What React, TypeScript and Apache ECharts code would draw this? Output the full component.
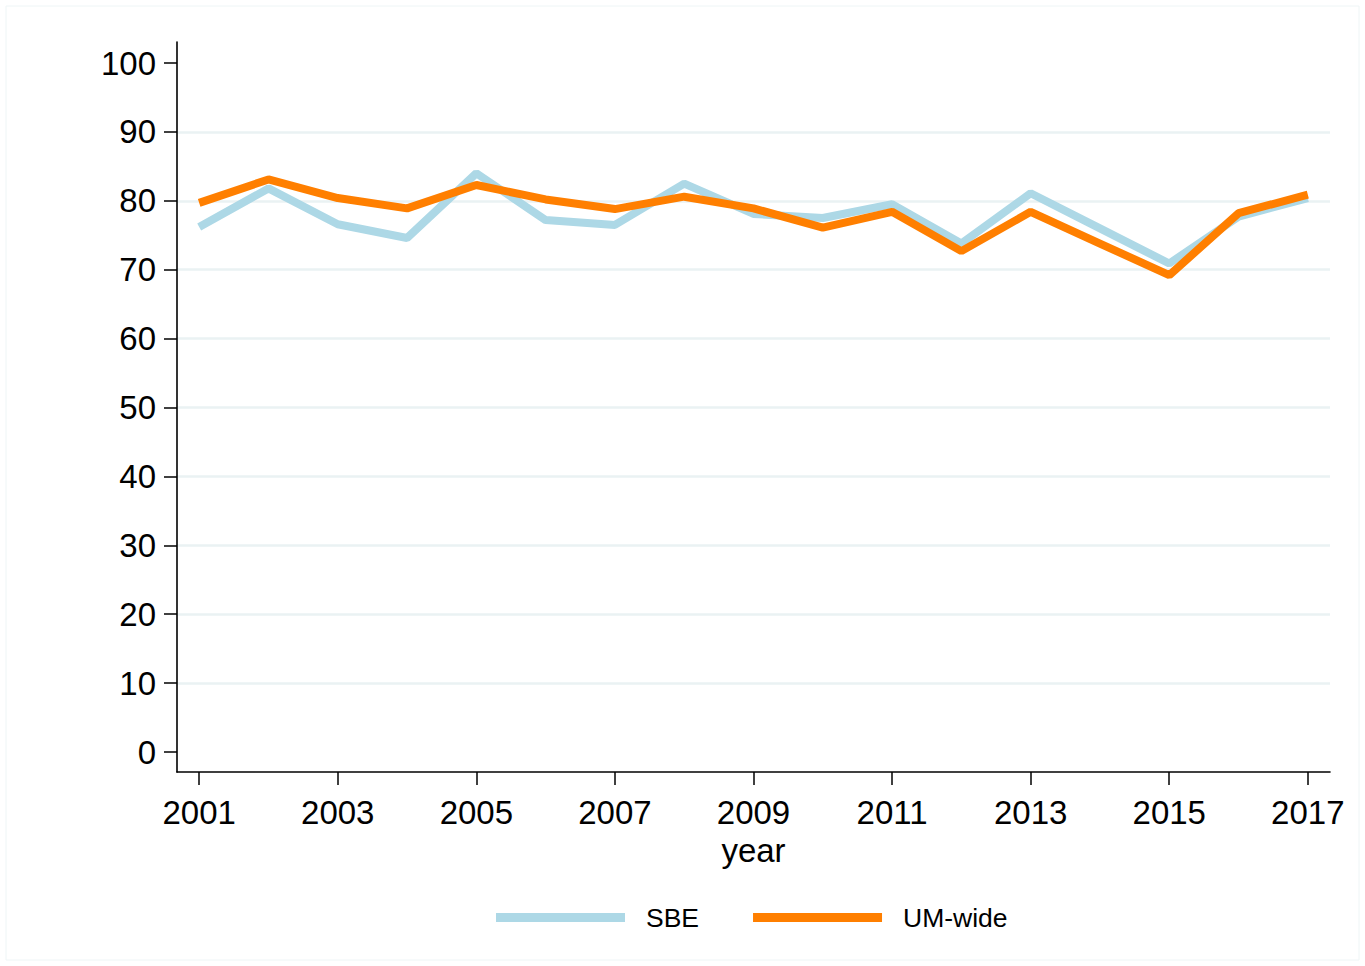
import React, { useEffect, useRef } from "react";
import * as echarts from "echarts";

const years = [2001, 2002, 2003, 2004, 2005, 2006, 2007, 2008, 2009, 2010, 2011, 2012, 2013, 2014, 2015, 2016, 2017];
const sbe = [76.2, 81.8, 76.6, 74.6, 84.0, 77.2, 76.5, 82.5, 78.1, 77.5, 79.5, 73.8, 81.1, 76.0, 70.9, 77.7, 80.4];
const umWide = [79.7, 83.1, 80.4, 78.9, 82.3, 80.2, 78.8, 80.6, 78.9, 76.1, 78.4, 72.7, 78.4, 73.8, 69.2, 78.2, 80.9];
const xTicks = [2001, 2003, 2005, 2007, 2009, 2011, 2013, 2015, 2017];
const yTicks = [0, 10, 20, 30, 40, 50, 60, 70, 80, 90, 100];

const FONT = "'Liberation Sans', Arial, Helvetica, sans-serif";

export default function App() {
  const ref = useRef<HTMLDivElement>(null);
  useEffect(() => {
    if (!ref.current) return;
    const chart = echarts.init(ref.current, null, { renderer: "svg" });
    const gridColors = yTicks.map((v) => (v === 0 || v === 100 ? "rgba(0,0,0,0)" : "#eaf2f3"));
    chart.setOption({
      animation: false,
      backgroundColor: "#ffffff",
      textStyle: { fontFamily: FONT },
      graphic: [
        {
          type: "rect",
          shape: { x: 6, y: 6, width: 1353, height: 954 },
          style: { fill: "none", stroke: "#eef5f6", lineWidth: 1 },
          silent: true,
        },
      ],
      grid: { left: 177, top: 42, width: 1153, height: 730, containLabel: false },
      legend: {
        left: 491,
        top: 899,
        icon: "rect",
        itemWidth: 129,
        itemHeight: 9,
        itemGap: 54,
        textStyle: { fontSize: 26.5, color: "#000", fontFamily: FONT, padding: [0, 0, 0, 16] },
        data: ["SBE", "UM-wide"],
      },
      xAxis: {
        type: "value",
        min: 2000.68,
        max: 2017.32,
        name: "year",
        nameLocation: "middle",
        nameGap: 45,
        nameTextStyle: { fontSize: 33, color: "#000", fontFamily: FONT },
        axisLine: { show: true, onZero: false, lineStyle: { color: "#000", width: 1.6 } },
        axisTick: { show: true, length: 13, customValues: xTicks, lineStyle: { color: "#000", width: 1.5 } },
        axisLabel: { show: true, customValues: xTicks, fontSize: 33, color: "#000", margin: 24, fontFamily: FONT, formatter: (v: number) => String(v) },
        splitLine: { show: false },
      },
      yAxis: {
        type: "value",
        min: -2.9,
        max: 103.05,
        axisLine: { show: true, onZero: false, lineStyle: { color: "#000", width: 1.6 } },
        axisTick: { show: true, length: 13, customValues: yTicks, lineStyle: { color: "#000", width: 1.5 } },
        axisLabel: { show: true, customValues: yTicks, fontSize: 33, color: "#000", margin: 21, fontFamily: FONT },
        splitLine: { show: true, lineStyle: { color: gridColors, width: 2.5 } },
      },
      series: [
        {
          name: "SBE",
          type: "line",
          data: years.map((y, i) => [y, sbe[i]]),
          showSymbol: false,
          symbol: "none",
          lineStyle: { color: "#add8e6", width: 8 },
          itemStyle: { color: "#add8e6" },
          z: 2,
        },
        {
          name: "UM-wide",
          type: "line",
          data: years.map((y, i) => [y, umWide[i]]),
          showSymbol: false,
          symbol: "none",
          lineStyle: { color: "#ff7f00", width: 8 },
          itemStyle: { color: "#ff7f00" },
          z: 3,
        },
      ],
    });
    return () => chart.dispose();
  }, []);
  return (
    <div
      ref={ref}
      style={{ position: "absolute", left: 0, top: 0, width: 1365, height: 966, background: "#fff" }}
    />
  );
}
